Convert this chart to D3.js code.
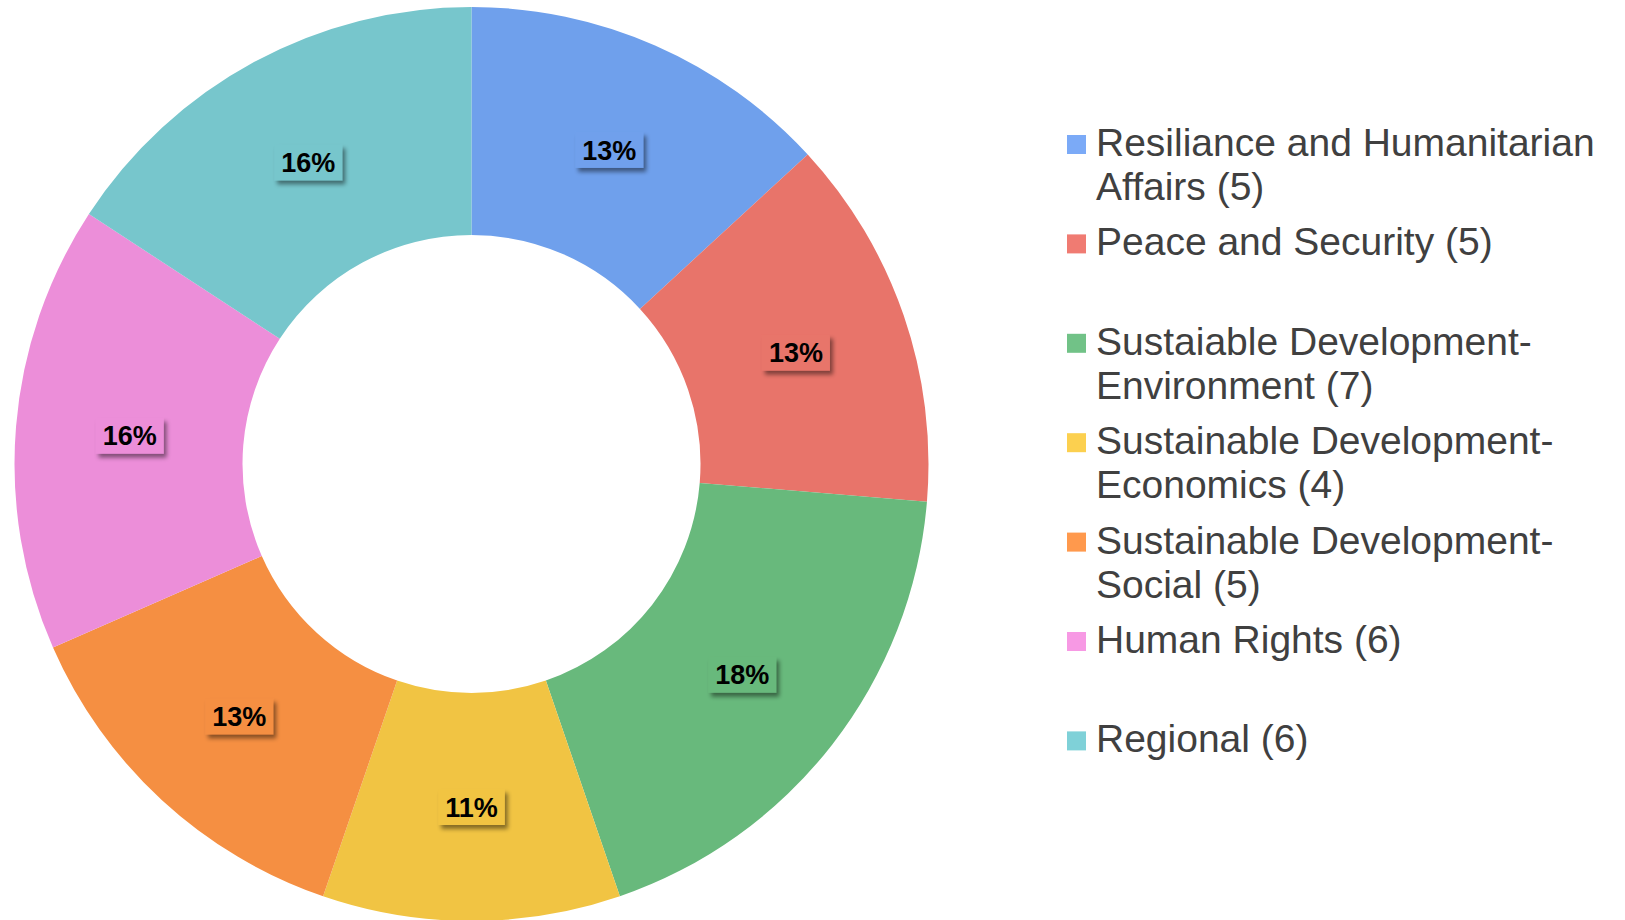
<!DOCTYPE html>
<meta charset="utf-8">
<style>
body { margin: 0; background: #fff; }
svg { display: block; font-family: Arial, "Liberation Sans", sans-serif; }
.legend text { fill: #404040; font-size: 39px; }
.labels text { font-size: 27px; font-weight: bold; fill: #000; }
</style>
<body>
<svg width="1625" height="920">
  <defs>
    <filter id="boxshadow" x="-30%" y="-30%" width="160%" height="170%">
      <feDropShadow dx="3" dy="4" stdDeviation="2.2" flood-color="#000" flood-opacity="0.45"/>
    </filter>
  </defs>
</svg>
</body>
<script src="https://cdn.jsdelivr.net/npm/d3@7"></script>
<script>
const categories = [
  "Resiliance and Humanitarian Affairs",
  "Peace and Security",
  "Sustaiable Development-Environment",
  "Sustainable Development-Economics",
  "Sustainable Development-Social",
  "Human Rights",
  "Regional"
]
const counts = [5, 5, 7, 4, 5, 6, 6]
const sliceColors = ["#6fa0ec", "#e8746a", "#68b97c", "#f1c443", "#f58f42", "#ec8ed9", "#77c6cc"]
const swatchColors = ["#7baaf7", "#f07b72", "#71c287", "#fcd04f", "#ff994d", "#f799e4", "#7fd1d8"]

const svg = d3.select("svg")
const cx = 471.5, cy = 464
const outerR = 457, innerR = 229

const data = categories.map((name, i) => ({name, value: counts[i], i}))
const total = d3.sum(counts)

const pie = d3.pie().value(d => d.value).sort(null)
const arc = d3.arc().innerRadius(innerR).outerRadius(outerR)
const arcs = pie(data)

const g = svg.append("g").attr("transform", `translate(${cx},${cy})`)

g.append("g").attr("class", "slices")
  .selectAll("path")
  .data(arcs)
  .join("path")
    .attr("d", arc)
    .attr("fill", d => sliceColors[d.data.i])

// percentage labels with little boxes
const fmt = d3.format(".0%")
const label = g.append("g").attr("class", "labels")
  .selectAll("g")
  .data(arcs)
  .join("g")
    .attr("transform", d => `translate(${arc.centroid(d)})`)

label.append("rect")
label.append("text")
  .attr("text-anchor", "middle")
  .attr("dy", "0.36em")
  .text(d => fmt(d.data.value / total))

label.each(function(d) {
  const sel = d3.select(this)
  const bb = sel.select("text").node().getBBox()
  const padX = 7, h = 36
  sel.select("rect")
    .attr("x", bb.x - padX)
    .attr("y", -h / 2)
    .attr("width", bb.width + padX * 2)
    .attr("height", h)
    .attr("fill", sliceColors[d.data.i])
    .attr("filter", "url(#boxshadow)")
})

// legend
const legendX = 1067, legendY = 156, legendStep = 99.4, lineH = 44, maxW = 540
const legend = svg.append("g").attr("class", "legend")
  .selectAll("g")
  .data(data)
  .join("g")
    .attr("transform", (d, i) => `translate(${legendX},${legendY + i * legendStep})`)

legend.append("rect")
  .attr("x", 0)
  .attr("y", -21)
  .attr("width", 19)
  .attr("height", 19)
  .attr("fill", d => swatchColors[d.i])

legend.append("text")
  .each(function(d) {
    const text = d3.select(this)
    const full = `${d.name} (${d.value})`
    // split on spaces, keep hyphen at end of a chunk
    const words = full.split(/(?<=-)|\s+/)
    const lines = []
    let cur = ""
    const probe = text.append("tspan")
    words.forEach(w => {
      const sep = cur === "" || cur.endsWith("-") ? "" : " "
      const attempt = cur + sep + w
      probe.text(attempt)
      if (cur !== "" && probe.node().getComputedTextLength() > maxW) {
        lines.push(cur)
        cur = w
      } else {
        cur = attempt
      }
    })
    lines.push(cur)
    probe.remove()
    lines.forEach((l, k) => {
      text.append("tspan")
        .attr("x", 29)
        .attr("y", k * lineH)
        .text(l)
    })
  })
</script>
